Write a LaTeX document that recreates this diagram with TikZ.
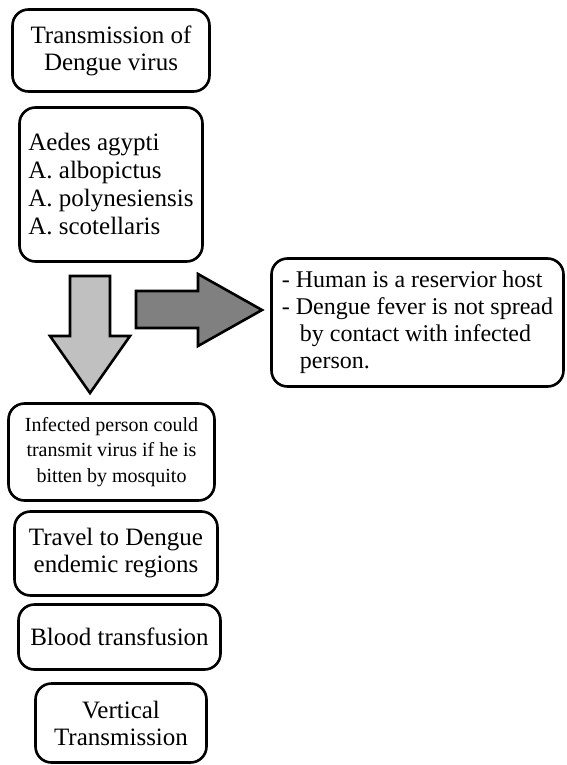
\documentclass[tikz,border=0pt]{standalone}
\usepackage{fontspec}
\setmainfont{Liberation Serif}
\usepackage{tikz}
\usetikzlibrary{positioning}
\definecolor{arrowlight}{HTML}{C0C0C0}
\definecolor{arrowdark}{HTML}{808080}
\tikzset{
	roundbox/.style={draw, line width=2.6pt, rounded corners=16pt, inner sep=0pt,
		align=center, font=\fontsize{25}{27}\selectfont},
	blockarrow/.style={draw, line width=2.6pt, line join=miter},
}

\begin{document}
\begin{tikzpicture}[x=1pt, y=-1pt]
	\useasboundingbox (0,0) rectangle (567,765);
	% left column
	\node[roundbox, minimum width=197pt, minimum height=82pt] (title) at (111,50.5)
		{Transmission of\\Dengue virus};
	\node[roundbox, align=left, minimum width=183pt, minimum height=154pt,
		font=\fontsize{25}{28}\selectfont] (vectors) at (111,184.5)
		{Aedes agypti\\A. albopictus\\A. polynesiensis\\A. scotellaris};
	\node[roundbox, minimum width=206pt, minimum height=97pt,
		font=\fontsize{20}{25.5}\selectfont] (infected) at (111.5,452)
		{Infected person could\\transmit virus if he is\\bitten by mosquito};
	\node[roundbox, minimum width=203pt, minimum height=84pt] (travel) at (116,553.5)
		{Travel to Dengue\\endemic regions};
	\node[roundbox, minimum width=202pt, minimum height=65pt] (blood) at (119.5,637)
		{Blood transfusion};
	\node[roundbox, minimum width=171pt, minimum height=79pt] (vertical) at (121,723)
		{Vertical\\Transmission};
	% right box
	\node[roundbox, align=left, minimum width=292pt, minimum height=128pt,
		font=\fontsize{24}{27}\selectfont] (host) at (417.5,322.5)
		{- Human is a reservior host\\- Dengue fever is not spread\\
		\hspace*{18pt}by contact with infected\\\hspace*{18pt}person.};
	% block arrows
	\draw[blockarrow, fill=arrowlight] (70,276) -- (110,276) -- (110,336) -- (130,336)
		-- (90,393) -- (50,336) -- (70,336) -- cycle;
	\draw[blockarrow, fill=arrowdark] (136,291) -- (198,291) -- (198,274) -- (262,310)
		-- (198,346) -- (198,328) -- (136,328) -- cycle;
\end{tikzpicture}
\end{document}
